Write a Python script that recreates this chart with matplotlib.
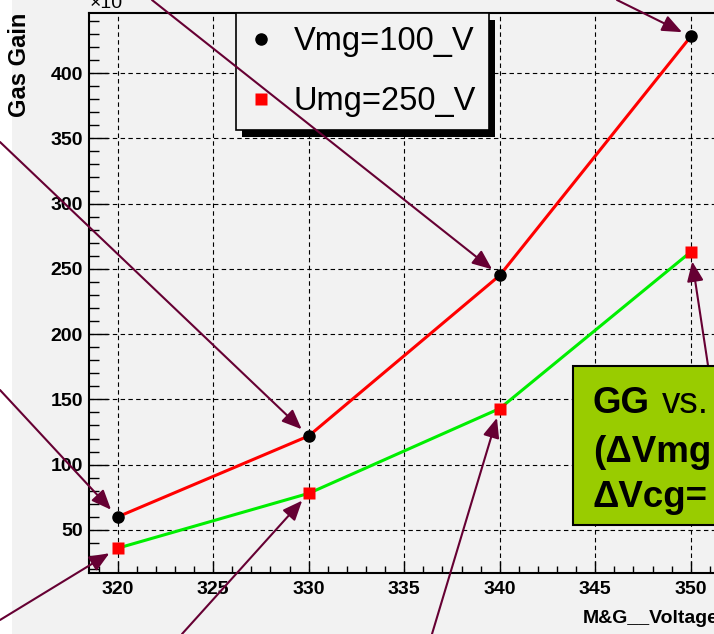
import matplotlib
matplotlib.use('Agg')
import matplotlib.pyplot as plt
from matplotlib.lines import Line2D
from matplotlib.patches import Rectangle
from matplotlib.ticker import MultipleLocator
from matplotlib.transforms import IdentityTransform

plt.rcParams['font.family'] = ['Liberation Sans', 'DejaVu Sans']
plt.rcParams['font.weight'] = 'bold'

# gas gain (x10) vs mesh+grid voltage
voltage = [320, 330, 340, 350]
gain_vmg100 = [60, 122, 245, 428]
gain_umg250 = [36, 78, 143, 263]
labels = ['Vmg=100_V', 'Umg=250_V']

W, H = 714, 634
bg = '#f2f2f2'
arrow_col = '#660033'

fig = plt.figure(figsize=(W / 100, H / 100), dpi=100, facecolor='white')
fig.add_artist(Rectangle((12 / W, 0), 1, 1, transform=fig.transFigure,
                         facecolor=bg, edgecolor='none', zorder=-5))

ax = fig.add_axes([89 / W, (H - 573) / H, (729 - 89) / W, (573 - 13) / H])
ax.set_facecolor(bg)

ax.plot(voltage, gain_vmg100, color='#ff0000', lw=2.2, zorder=3)
ax.plot(voltage, gain_umg250, color='#00ee00', lw=2.2, zorder=3)
ax.plot(voltage, gain_vmg100, 'o', color='k', ms=8, zorder=4)
ax.plot(voltage, gain_umg250, 's', color='#ff0000', ms=8, mec='none', zorder=4)

ax.set_xlim(318.5, 352)
ax.set_ylim(17, 446)
ax.xaxis.set_major_locator(MultipleLocator(5))
ax.xaxis.set_minor_locator(MultipleLocator(1))
ax.yaxis.set_major_locator(MultipleLocator(50))
ax.yaxis.set_minor_locator(MultipleLocator(10))
ax.grid(True, which='major', color='k', linestyle=(0, (4, 3)), lw=0.8, zorder=1)
ax.set_axisbelow(True)

for s in ax.spines.values():
    s.set_linewidth(1.5)
ax.tick_params(which='both', direction='in', width=1.0, top=False, right=False,
               labelsize=14)
ax.tick_params(axis='y', which='major', length=14, pad=4.3)
ax.tick_params(axis='y', which='minor', length=7)
ax.tick_params(axis='x', which='major', length=9, pad=6)
ax.tick_params(axis='x', which='minor', length=5)

fig.text(20 / W, (H - 13) / H, 'Gas Gain', rotation=90, ha='center', va='top',
         fontsize=17)
fig.text(90 / W, (H - 8) / H, '×10', ha='left', va='baseline', fontsize=14,
         fontweight='normal')
fig.text(583 / W, (H - 623) / H, 'M&G__Voltage', ha='left', va='baseline',
         fontsize=14)

handles = [Line2D([], [], ls='none', marker='o', color='k', ms=8),
           Line2D([], [], ls='none', marker='s', color='#ff0000', mec='none', ms=8)]
leg = ax.legend(handles, labels, loc='upper left',
                bbox_to_anchor=(236 / W, 1 - 13 / H), bbox_transform=fig.transFigure,
                borderaxespad=0, fancybox=False, edgecolor='k', facecolor=bg,
                framealpha=1, prop={'size': 23.5, 'weight': 'normal'}, borderpad=0.4,
                handlelength=0.76, handletextpad=0.6, labelspacing=0.9)
leg.get_frame().set_linewidth(1.2)
leg.set_zorder(5)

# arrows pointing at each measurement (start points in pixels from top-left)
starts_vmg = [(0, 390), (0, 142), (152, 0), (617, 0)]
starts_umg = [(0, 620), (182, 634), (432, 634), (709, 372)]
astyle = dict(arrowstyle='-|>,head_length=1.2,head_width=0.5', color=arrow_col,
              lw=1.5, mutation_scale=10, shrinkA=0, shrinkB=7)
for xv, yv, st in zip(voltage, gain_vmg100, starts_vmg):
    ax.annotate('', xy=(xv, yv), xytext=(st[0], H - st[1]), textcoords='figure pixels',
                arrowprops=astyle, annotation_clip=False, zorder=6)
for xv, yv, st in zip(voltage, gain_umg250, starts_umg):
    ax.annotate('', xy=(xv, yv), xytext=(st[0], H - st[1]), textcoords='figure pixels',
                arrowprops=astyle, annotation_clip=False, zorder=6)

# green caption box at lower right
fig.add_artist(Rectangle((573 / W, (H - 525) / H), (760 - 573) / W, (525 - 366) / H,
                         transform=fig.transFigure, facecolor='#99cc00',
                         edgecolor='k', lw=1.5, zorder=10))
fs_box = 26.5
fig.text(593 / W, (H - 413) / H, 'GG', fontsize=fs_box, va='baseline', zorder=11)
fig.text(662 / W, (H - 413) / H, 'vs.', fontsize=fs_box, fontweight='normal',
         va='baseline', zorder=11)
fig.text(593 / W, (H - 462) / H, '(ΔVmg', fontsize=fs_box, va='baseline', zorder=11)
fig.text(593 / W, (H - 507) / H, 'ΔVcg=', fontsize=fs_box, va='baseline', zorder=11)

# black drop shadow behind the legend box
fig.canvas.draw()
bb = leg.get_frame().get_window_extent()
ax.add_patch(Rectangle((bb.x0 + 6, bb.y0 - 7), bb.width, bb.height,
                       transform=IdentityTransform(), facecolor='k',
                       edgecolor='none', clip_on=False, zorder=4.9))

fig.savefig('out.png', dpi=100, facecolor=fig.get_facecolor())
